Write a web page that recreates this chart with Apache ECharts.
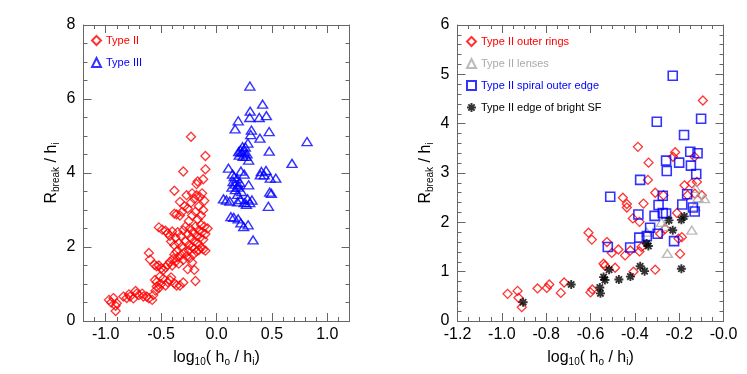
<!DOCTYPE html>
<html><head><meta charset="utf-8">
<script src="https://cdn.jsdelivr.net/npm/echarts@6/dist/echarts.min.js"></script>
<style>html,body{margin:0;padding:0;background:#fff}#c{width:747px;height:374px}</style>
</head><body><div id="c"></div>
<script>
// ---- Left panel data ----
const leftTypeII = [
[-0.97,0.57],[-0.95,0.50],[-0.93,0.62],[-0.91,0.41],[-0.91,0.27],[-0.90,0.48],[-0.84,0.66],[-0.81,0.62],[-0.79,0.72],[-0.78,0.66],[-0.75,0.61],[-0.73,0.81],[-0.72,0.74],[-0.70,0.70],[-0.67,0.74],[-0.66,0.66],[-0.63,0.66],[-0.61,0.61],[-0.58,0.57],[-0.57,0.70],[-0.55,0.82],[-0.54,0.93],
[-0.555,1.11],[-0.54,1.05],[-0.52,0.89],[-0.51,1.20],[-0.50,1.00],[-0.48,1.14],[-0.46,0.96],[-0.44,1.05],[-0.42,1.10],[-0.41,1.18],[-0.38,1.02],[-0.36,0.96],[-0.33,0.96],[-0.30,1.04],[-0.26,1.40],[-0.20,1.38],[-0.19,1.08],
[-0.61,1.84],[-0.60,1.66],[-0.56,1.52],[-0.54,1.48],[-0.52,1.50],[-0.50,1.42],[-0.48,1.38],[-0.46,1.45],[-0.44,1.52],[-0.42,1.60],[-0.40,1.50],[-0.39,1.68],[-0.37,1.60],[-0.35,1.72],[-0.38,1.80],[-0.36,1.88],[-0.34,1.55],[-0.32,1.78],[-0.30,1.65],[-0.29,1.85],[-0.27,1.75],[-0.25,1.90],[-0.24,1.70],[-0.22,1.58],[-0.21,1.80],[-0.20,1.95],[-0.18,1.88],[-0.16,1.92],[-0.14,1.98],[-0.12,1.94],[-0.10,1.90],
[-0.52,2.53],[-0.49,2.47],[-0.46,2.44],[-0.44,2.37],[-0.42,2.30],[-0.41,2.15],[-0.40,2.42],[-0.38,2.05],[-0.37,2.25],[-0.35,2.40],[-0.34,2.10],[-0.32,2.30],[-0.31,2.02],[-0.30,2.45],[-0.28,2.55],[-0.28,2.15],[-0.26,2.35],[-0.25,2.05],[-0.24,2.50],[-0.23,2.25],[-0.22,2.00],[-0.21,2.40],[-0.20,2.15],[-0.19,2.55],[-0.18,2.30],[-0.17,2.10],[-0.16,2.45],[-0.15,2.25],[-0.14,2.60],[-0.13,2.40],[-0.12,2.20],[-0.11,2.55],[-0.10,2.35],[-0.08,2.50],
[-0.38,2.90],[-0.36,2.88],[-0.33,2.85],[-0.31,2.95],[-0.29,3.10],[-0.26,3.04],[-0.25,2.70],[-0.23,3.20],[-0.22,2.85],[-0.20,3.30],[-0.19,2.95],[-0.18,3.40],[-0.17,2.75],[-0.16,3.10],[-0.15,3.35],[-0.14,2.85],[-0.13,3.45],[-0.12,3.00],[-0.11,3.25],[-0.33,3.22],[-0.38,3.52],[-0.27,3.40],[-0.22,3.45],
[-0.30,4.04],[-0.17,3.77],[-0.18,3.70],[-0.12,3.83],[-0.10,4.10],[-0.10,4.46],[-0.23,4.98]
];
const leftTypeIII = [
[0.301,6.35],[0.416,5.86],[0.304,5.67],[0.300,5.50],[0.196,5.41],[0.386,5.50],[0.450,5.55],[0.168,5.19],[0.315,5.16],[0.309,5.04],[0.475,5.12],[0.392,4.94],[0.817,4.85],[0.283,4.81],[0.235,4.71],[0.215,4.62],[0.260,4.70],[0.250,4.58],[0.275,4.52],[0.205,4.48],[0.240,4.45],[0.290,4.35],[0.476,4.59],[0.681,4.26],
[0.108,4.13],[0.144,3.97],[0.220,4.05],[0.250,3.97],[0.447,4.07],[0.430,3.95],[0.535,3.86],[0.150,3.77],[0.170,3.70],[0.140,3.62],[0.195,3.62],[0.290,3.68],[0.190,3.42],[0.480,3.48],[0.495,3.45],[0.468,3.10],
[0.090,3.27],[0.120,3.24],[0.190,3.22],[0.215,3.28],[0.250,3.20],[0.280,3.30],[0.300,3.20],[0.320,3.27],[0.270,3.15],[0.063,3.30],[0.130,2.82],[0.155,2.80],[0.195,2.76],[0.220,2.65],[0.245,2.55],[0.285,2.60],[0.330,2.19],
[0.170,3.55],[0.210,3.75],[0.185,3.85],[0.160,3.90],[0.395,3.95],[0.405,4.04],[0.485,3.86],[0.196,3.68],[0.225,3.50],[0.230,4.55],[0.265,4.45],[0.200,4.58]
];
const leftXTicks = [-1.0,-0.5,0.0,0.5,1.0];
const leftXMinor = [-1.2,-1.1,-1.0,-0.9,-0.8,-0.7,-0.6,-0.5,-0.4,-0.3,-0.2,-0.1,0.0,0.1,0.2,0.3,0.4,0.5,0.6,0.7,0.8,0.9,1.0,1.1,1.2];

// ---- Right panel data ----
const rightRings = [
[-0.974,0.55],[-0.929,0.61],[-0.925,0.47],[-0.91,0.28],[-0.839,0.66],[-0.797,0.67],[-0.786,0.74],[-0.734,0.57],[-0.719,0.78],[-0.60,0.58],[-0.592,0.64],[-0.609,1.79],[-0.594,1.65],[-0.541,1.16],[-0.535,1.12],[-0.526,1.60],[-0.504,1.38],[-0.489,1.08],[-0.474,1.45],[-0.454,2.50],[-0.436,2.37],[-0.436,2.30],[-0.444,1.33],[-0.42,1.43],[-0.409,2.08],[-0.406,1.0],[-0.379,1.41],[-0.37,1.5],[-0.379,2.01],[-0.361,2.38],[-0.386,3.53],[-0.341,2.86],[-0.338,3.21],[-0.308,2.6],[-0.308,1.04],[-0.286,1.77],[-0.271,2.55],[-0.263,1.87],[-0.228,3.33],[-0.218,3.42],[-0.21,2.19],[-0.203,1.67],[-0.196,1.36],[-0.188,1.70],[-0.176,2.75],[-0.162,2.55],[-0.143,2.79],[-0.131,3.33],[-0.129,2.58],[-0.12,2.82],[-0.098,2.55],[-0.093,4.47]
];
const rightLenses = [
[-0.346,1.80],[-0.28,2.0],[-0.263,1.92],[-0.253,1.37],[-0.143,1.84],[-0.125,2.69],[-0.115,2.50],[-0.086,2.48],[-0.13,2.32]
];
const rightSpiral = [
[-0.229,4.97],[-0.301,4.04],[-0.178,3.77],[-0.101,4.10],[-0.150,3.43],[-0.117,3.40],[-0.259,3.25],[-0.2,3.21],[-0.147,3.15],[-0.256,3.04],[-0.123,2.98],[-0.376,2.86],[-0.511,2.52],[-0.164,2.57],[-0.274,2.54],[-0.293,2.35],[-0.186,2.36],[-0.138,2.30],[-0.384,2.16],[-0.311,2.13],[-0.274,2.19],[-0.259,2.18],[-0.13,2.22],[-0.331,1.89],[-0.346,1.72],[-0.38,1.69],[-0.297,1.77],[-0.223,1.62],[-0.522,1.50],[-0.421,1.49]
];
const rightSF = [
[-0.904,0.38],[-0.687,0.74],[-0.558,0.68],[-0.555,0.56],[-0.541,0.89],[-0.535,0.83],[-0.516,1.04],[-0.472,0.84],[-0.42,0.90],[-0.376,1.11],[-0.356,1.01],[-0.347,1.57],[-0.339,1.52],[-0.246,2.04],[-0.229,1.84],[-0.19,2.05],[-0.177,2.12],[-0.19,1.06]
];
const rightXTicks = [-1.2,-1.0,-0.8,-0.6,-0.4,-0.2,0.0];
const rightXMinor = [-1.2,-1.15,-1.1,-1.05,-1.0,-0.95,-0.9,-0.85,-0.8,-0.75,-0.7,-0.65,-0.6,-0.55,-0.5,-0.45,-0.4,-0.35,-0.3,-0.25,-0.2,-0.15,-0.1,-0.05,0.0];

const FONT = 'Liberation Sans, Arial, Helvetica, sans-serif';
const AX = '#666';
const LBL = 16;
const richSub = {
  m: {fontSize: 16, fontFamily: FONT, color: '#000', lineHeight: 20},
  s: {fontSize: 10, fontFamily: FONT, color: '#000', padding: [9,0,0,0], lineHeight: 20}
};

function xAxes(grid, min, max, majors, minors, fmt, name) {
  const base = {gridIndex: grid, type: 'value', min: min, max: max, splitLine: {show: false}};
  return [
    Object.assign({}, base, {position: 'bottom', axisLine: {show: true, onZero: false, lineStyle: {color: AX, width: 1}},
      axisTick: {show: true, inside: true, length: 8, customValues: majors, lineStyle: {color: AX}},
      axisLabel: {show: true, customValues: majors, formatter: fmt, fontSize: LBL, fontFamily: FONT, color: '#000', margin: 6},
      name: name, nameLocation: 'middle', nameGap: 22, nameTextStyle: {rich: richSub}}),
    Object.assign({}, base, {position: 'bottom', axisLine: {show: false, onZero: false},
      axisTick: {show: true, inside: true, length: 4, customValues: minors, lineStyle: {color: AX}},
      axisLabel: {show: false}}),
    Object.assign({}, base, {position: 'top', axisLine: {show: true, onZero: false, lineStyle: {color: AX, width: 1}},
      axisTick: {show: true, inside: true, length: 8, customValues: majors, lineStyle: {color: AX}},
      axisLabel: {show: false}}),
    Object.assign({}, base, {position: 'top', axisLine: {show: false, onZero: false},
      axisTick: {show: true, inside: true, length: 4, customValues: minors, lineStyle: {color: AX}},
      axisLabel: {show: false}})
  ];
}
function yAxes(grid, min, max, interval, split, name) {
  const base = {gridIndex: grid, type: 'value', min: min, max: max, interval: interval, splitLine: {show: false},
    axisLine: {show: true, onZero: false, lineStyle: {color: AX, width: 1}},
    axisTick: {show: true, inside: true, length: 8, lineStyle: {color: AX}},
    minorTick: {show: true, splitNumber: split, length: 4, lineStyle: {color: AX}}};
  return [
    Object.assign({}, base, {position: 'left',
      axisLabel: {show: true, fontSize: LBL, fontFamily: FONT, color: '#000', margin: 8},
      name: name, nameLocation: 'middle', nameGap: 22, nameRotate: 90, nameTextStyle: {rich: richSub}}),
    Object.assign({}, base, {position: 'right', axisLabel: {show: false}})
  ];
}

const yName = '{m|R}{s|break}{m| / h}{s|i}';
const xName = '{m|log}{s|10}{m|( h}{s|o}{m| / h}{s|i}{m|)}';

const hollow = (c, w) => ({color: 'transparent', borderColor: c, borderWidth: w});
const ASTER = 'path://M5,0L5,10M0,5L10,5M1.5,1.5L8.5,8.5M1.5,8.5L8.5,1.5';

const option = {
  animation: false,
  backgroundColor: '#fff',
  grid: [
    {left: 83.5, top: 25, width: 266, height: 296},
    {left: 457.5, top: 25, width: 266, height: 296}
  ],
  xAxis: [].concat(
    xAxes(0, -1.2, 1.2, leftXTicks, leftXMinor, v => v.toFixed(1), xName),
    xAxes(1, -1.2, 0, rightXTicks, rightXMinor, v => (Math.abs(v) < 1e-9 ? '-0.0' : v.toFixed(1)), xName)
  ),
  yAxis: [].concat(
    yAxes(0, 0, 8, 2, 4, yName),
    yAxes(1, 0, 6, 1, 5, yName)
  ),
  legend: [
    {left: 86, top: 30, padding: 5, orient: 'vertical', itemGap: 11, itemWidth: 9, itemHeight: 9,
     textStyle: {fontSize: 11, fontFamily: FONT},
     data: [{name: 'Type II', textStyle: {color: '#ff0000'}}, {name: 'Type III', textStyle: {color: '#0000ff'}}]},
    {left: 461, top: 31, padding: 5, orient: 'vertical', itemGap: 11, itemWidth: 9, itemHeight: 9,
     textStyle: {fontSize: 11, fontFamily: FONT},
     data: [{name: 'Type II outer rings', textStyle: {color: '#ff0000'}},
            {name: 'Type II lenses', textStyle: {color: '#aaaaaa'}},
            {name: 'Type II spiral outer edge', textStyle: {color: '#0000ff'}},
            {name: 'Type II edge of bright SF', textStyle: {color: '#000000'}}]}
  ],
  series: [
    {name: 'Type II', type: 'scatter', xAxisIndex: 0, yAxisIndex: 0, data: leftTypeII,
     symbol: 'diamond', symbolSize: [9, 9], itemStyle: hollow('#ff0000', 1.3)},
    {name: 'Type III', type: 'scatter', xAxisIndex: 0, yAxisIndex: 0, data: leftTypeIII,
     symbol: 'triangle', symbolSize: [10, 8], itemStyle: hollow('#0000ff', 1.4)},
    {name: 'Type II outer rings', type: 'scatter', xAxisIndex: 4, yAxisIndex: 2, data: rightRings,
     symbol: 'diamond', symbolSize: [9, 9], itemStyle: hollow('#ff0000', 1.3)},
    {name: 'Type II lenses', type: 'scatter', xAxisIndex: 4, yAxisIndex: 2, data: rightLenses,
     symbol: 'triangle', symbolSize: [10, 8], itemStyle: hollow('#aaaaaa', 1.4)},
    {name: 'Type II spiral outer edge', type: 'scatter', xAxisIndex: 4, yAxisIndex: 2, data: rightSpiral,
     symbol: 'rect', symbolSize: [9, 9], itemStyle: hollow('#0000ff', 1.6)},
    {name: 'Type II edge of bright SF', type: 'scatter', xAxisIndex: 4, yAxisIndex: 2, data: rightSF,
     symbol: ASTER, symbolSize: [9, 9], itemStyle: hollow('#000000', 1.9)}
  ]
};
const chart = echarts.init(document.getElementById('c'), null, {renderer: 'canvas'});
chart.setOption(option);
</script></body></html>
